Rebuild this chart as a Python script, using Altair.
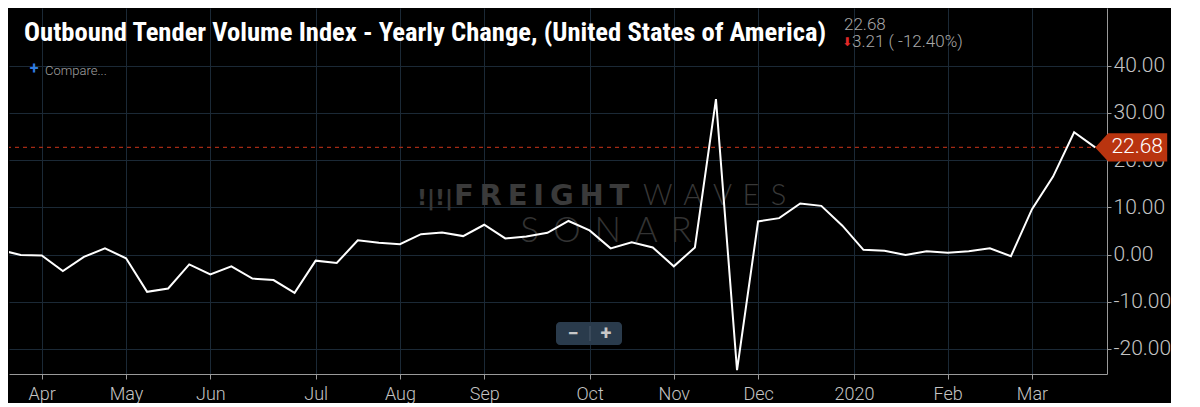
import altair as alt
import pandas as pd

# weekly index (k = week number; k=0 is the week of 2019-03-31)
weeks = list(range(-1, 52))
values = [1.0, -0.1, -0.2, -3.5, -0.5, 1.3, -0.8, -7.9, -7.2, -2.1, -4.2, -2.5, -5.1,
          -5.4, -8.1, -1.3, -1.8, 3.0, 2.5, 2.2, 4.3, 4.65, 3.9, 6.3, 3.4, 3.8, 4.6,
          7.1, 5.1, 1.3, 2.6, 1.5, -2.5, 1.5, 32.9, -24.5, 7.0, 7.7, 10.8, 10.3, 6.1,
          1.0, 0.8, -0.1, 0.7, 0.35, 0.7, 1.3, -0.35, 9.6, 16.5, 25.89, 22.68]

tick_pos = [1, 5, 9, 14, 18, 22, 27, 31, 35, 39.55, 44, 48]
tick_labels = ["Apr", "May", "Jun", "Jul", "Aug", "Sep", "Oct", "Nov", "Dec", "2020", "Feb", "Mar"]
y_ticks = [-20, -10, 0, 10, 20, 30, 40]

TITLE = "Outbound Tender Volume Index - Yearly Change, (United States of America)"

W, H = 1098, 366
df = pd.DataFrame({"k": weeks, "v": values})
last = values[-1]
prev = values[-2]
chg = last - prev
pct = chg / prev * 100
last_df = pd.DataFrame({"k": [weeks[-1]], "v": [last], "lab": [f"{last:.2f}"]})

label_expr = ""
for p, l in zip(tick_pos, tick_labels):
    label_expr += f"datum.value == {p} ? '{l}' : "
label_expr += "''"

xs = alt.Scale(domain=[-0.555, 51.56], nice=False, zero=False)
ys = alt.Scale(domain=[-25.3, 52.2], nice=False, zero=False)

grid_c = "#1b2936"
axis_c = "#9a9a9a"

x_axis = alt.Axis(values=tick_pos, labelExpr=label_expr, title=None, grid=True,
                  gridColor=grid_c, domainColor=axis_c, tickColor=axis_c, tickSize=5,
                  labelFont="Roboto", labelFontWeight=300, labelFontSize=18,
                  labelColor="#c4c4c4", labelPadding=6, labelFlush=False, labelOverlap=False)
y_axis = alt.Axis(values=y_ticks, orient="right", title=None, grid=True,
                  gridColor=grid_c, domainColor=axis_c, tickColor=axis_c, tickSize=4,
                  labelFont="Roboto", labelFontWeight=300, labelFontSize=21,
                  labelColor="#c4c4c4", labelPadding=2,
                  labelExpr="(datum.value < 0 ? '-' : '') + format(abs(datum.value), '.2f')")

base = alt.Chart(df)

axes_layer = base.mark_line(opacity=0, clip=True).encode(
    x=alt.X("k:Q", scale=xs, axis=x_axis),
    y=alt.Y("v:Q", scale=ys, axis=y_axis),
)

one = pd.DataFrame({"a": [0]})

# watermark
wm = [
    alt.Chart(one).mark_text(text="F\u2009R\u2009E\u2009I\u2009G\u2009H\u2009T", font="DejaVu Sans",
                             fontWeight="bold", fontSize=29, color="#3a3a3a", align="left",
                             baseline="alphabetic").encode(x=alt.value(445), y=alt.value(197)),
    alt.Chart(one).mark_text(text="W \u2009A \u2009V \u2009E \u2009S", font="Lato", fontWeight=300,
                             fontSize=29, color="#383838", align="left",
                             baseline="alphabetic").encode(x=alt.value(634), y=alt.value(197)),
    alt.Chart(one).mark_text(text="S \u2009O \u2009N \u2009A \u2009R", font="Lato", fontWeight=300,
                             fontSize=35, color="#333333", align="center",
                             baseline="alphabetic").encode(x=alt.value(597), y=alt.value(234)),
    alt.Chart(one).mark_text(text="!|!|", font="DejaVu Sans", fontWeight="bold", fontSize=22,
                             color="#383838", align="left",
                             baseline="alphabetic").encode(x=alt.value(408), y=alt.value(197)),
]

line = base.mark_line(color="#ffffff", strokeWidth=2, clip=True, strokeJoin="miter").encode(
    x=alt.X("k:Q", scale=xs), y=alt.Y("v:Q", scale=ys))

ref = alt.Chart(last_df).mark_rule(color="#a32a14", strokeDash=[4, 4], strokeWidth=1.2).encode(
    y=alt.Y("v:Q", scale=ys))

tag = alt.Chart(last_df).mark_point(
    shape="M0,0 L0.36,-0.39 L2,-0.39 L2,0.39 L0.36,0.39 Z",
    size=5184, filled=True, color="#b9340f", opacity=1, strokeWidth=0).encode(
    x=alt.X("k:Q", scale=xs), y=alt.Y("v:Q", scale=ys))
tag_txt = alt.Chart(last_df).mark_text(dx=42, font="Roboto", fontWeight=300, fontSize=21,
                                       color="#ffffff", align="center", baseline="middle").encode(
    x=alt.X("k:Q", scale=xs), y=alt.Y("v:Q", scale=ys), text="lab:N")

# header texts
title = alt.Chart(one).mark_text(text=TITLE, font="Liberation Sans Narrow, Roboto Condensed, Roboto",
                                 fontWeight="bold", fontSize=26.6, color="#ffffff", align="left",
                                 baseline="alphabetic").encode(x=alt.value(15), y=alt.value(33))
val_txt = alt.Chart(one).mark_text(text=f"{last:.2f}", font="Roboto", fontWeight=300, fontSize=17,
                                   color="#a8a8a8", align="left",
                                   baseline="alphabetic").encode(x=alt.value(835), y=alt.value(22))
arrow = alt.Chart(one).mark_text(text="\u2b07", font="DejaVu Sans", fontSize=12,
                                 color="#e02828", align="left",
                                 baseline="alphabetic").encode(x=alt.value(833), y=alt.value(38))
chg_txt = alt.Chart(one).mark_text(text=f"{abs(chg):.2f} ( {pct:.2f}%)", font="Roboto", fontWeight=300,
                                   fontSize=17, color="#a8a8a8", align="left",
                                   baseline="alphabetic").encode(x=alt.value(843), y=alt.value(39))
plus = alt.Chart(one).mark_text(text="+", font="Roboto", fontWeight="bold", fontSize=16,
                                color="#2f7be0", align="center",
                                baseline="middle").encode(x=alt.value(25), y=alt.value(61))
compare = alt.Chart(one).mark_text(text="Compare...", font="Roboto", fontWeight=300, fontSize=13,
                                   color="#a0a0a0", align="left",
                                   baseline="alphabetic").encode(x=alt.value(36), y=alt.value(67))

# zoom control
zbox = alt.Chart(one).mark_rect(color="#2a3b4c", cornerRadius=4).encode(
    x=alt.value(547), x2=alt.value(613), y=alt.value(314), y2=alt.value(337))
zsep = alt.Chart(one).mark_rule(color="#4a5b6b", strokeWidth=1).encode(
    x=alt.value(581), y=alt.value(318), y2=alt.value(333))
zminus = alt.Chart(one).mark_text(text="\u2212", font="Roboto", fontWeight="bold", fontSize=20,
                                  color="#c8c8c8", align="center", baseline="middle").encode(
    x=alt.value(564), y=alt.value(326))
zplus = alt.Chart(one).mark_text(text="+", font="Roboto", fontWeight="bold", fontSize=20,
                                 color="#c8c8c8", align="center", baseline="middle").encode(
    x=alt.value(597), y=alt.value(326))

chart = alt.layer(
    axes_layer, *wm, ref, line, tag, tag_txt, title, val_txt, arrow, chg_txt, plus, compare,
    zbox, zsep, zminus, zplus
).properties(width=W, height=H, padding=0, background="#000000").configure_view(strokeWidth=0)

chart.save("out.html", embed_options={"renderer": "svg", "actions": False})
